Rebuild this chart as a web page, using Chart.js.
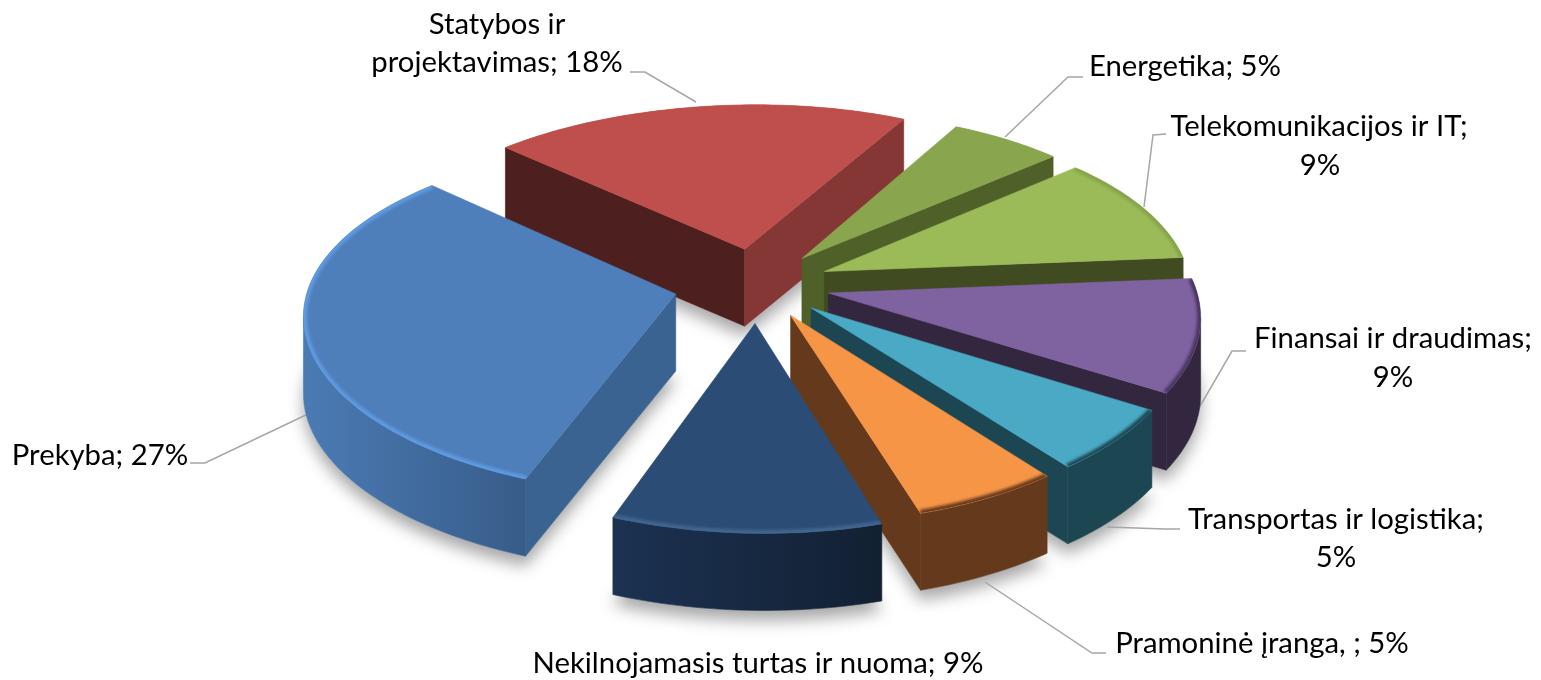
<!DOCTYPE html>
<html>
<head>
<meta charset="utf-8">
<title>Pasiskirstymas pagal sektorius</title>
<script src="https://cdn.jsdelivr.net/npm/chart.js@4/dist/chart.umd.min.js"></script>
<style>
    html, body { margin: 0; padding: 0; background: #fff; overflow: hidden; }
    #wrap { position: relative; width: 1541px; height: 680px; }
</style>
</head>
<body>
<div id="wrap"><canvas id="myChart"></canvas></div>
<script>
const categories = ['Prekyba', 'Statybos ir projektavimas', 'Energetika', 'Telekomunikacijos ir IT',
    'Finansai ir draudimas', 'Transportas ir logistika', 'Pramoninė įranga, ', 'Nekilnojamasis turtas ir nuoma'];
const values = [27, 18, 5, 9, 9, 5, 5, 9];

const topColors = ['#4E7FBB', '#BE4F4C', '#89A54E', '#9BBB59', '#7F62A0', '#4AAAC5', '#F79546', '#2B4C75'];
const startWallColors = ['#3B6391', '#4D1F1E', '#4F6028', '#404B21', '#33273F', '#1D4653', '#653A1C', '#1C3252'];
const endWallColors = ['#3B6391', '#843735', '#4F6028', '#404B21', '#33273F', '#1D4653', '#653A1C', '#1C3252'];
const rimLeftColors = ['#4B7BB4', '#843735', '#4F6028', '#404B21', '#33273F', '#1D4653', '#653A1C', '#1C3252'];
const rimRightColors = ['#375C89', '#843735', '#4F6028', '#404B21', '#33273F', '#1D4653', '#653A1C', '#122032'];
const bevelColors = ['#5F9BE2', '#BE4F4C', '#89A54E', '#86A34C', '#4A3560', '#1D4653', '#653A1C', '#41668F'];
// pull-out of each slice, Chart.js moves an arc by offset / 4
const explode = [336, 320, 292, 292, 288, 284, 284, 320];

// how the label text is broken into lines and where it sits
const labelLines = [
    [['Prekyba; 27%', 100, 456]],
    [['Statybos ir', 497, 25], ['projektavimas; 18%', 497, 63]],
    [['Energetika; 5%', 1185, 67]],
    [['Telekomunikacijos ir IT;', 1319, 127], ['9%', 1320, 166]],
    [['Finansai ir draudimas;', 1393, 339], ['9%', 1393, 378]],
    [['Transportas ir logistika;', 1336, 520], ['5%', 1336, 558]],
    [['Pramoninė įranga, ; 5%', 1262, 644]],
    [['Nekilnojamasis turtas ir nuoma; 9%', 758, 664]]
];
const leaderLines = [
    [[190, 463], [205, 463], [310, 413]],
    [[630, 72], [645, 72], [696, 102]],
    [[1083, 77], [1068, 77], [1005, 137]],
    [[1166, 134], [1153, 135], [1144, 207]],
    [[1246, 351], [1232, 351], [1192, 420]],
    [[1180, 529], [1165, 529], [1107, 527]],
    [[1106, 653], [1092, 653], [985, 582]]
];

// fake 3D view of the pie plane
const squash = 0.468;
const depthY = 0.13;
const depthX = 0.11;
const bend = 7;
const height = 77;

function project(el, X, Y, Z) {
    const r = el.outerRadius;
    const wy = 1 / (1 - depthY * Y / r);
    const wx = 1 / (1 - depthX * Y / r);
    return [el.x + X * wx + bend * (Y / r) * (Y / r), el.y + Y * squash * wy - Z];
}

function sliceOutline(el) {
    const off = (el.options.offset || 0) / 4;
    const mid = (el.startAngle + el.endAngle) / 2;
    const ox = Math.cos(mid) * off;
    const oy = Math.sin(mid) * off;
    const rim = [];
    const steps = Math.max(8, Math.ceil((el.endAngle - el.startAngle) * 40));
    for (let i = 0; i <= steps; i++) {
        const a = el.startAngle + (el.endAngle - el.startAngle) * i / steps;
        rim.push([ox + Math.cos(a) * el.outerRadius, oy + Math.sin(a) * el.outerRadius]);
    }
    return { apex: [ox, oy], rim: rim };
}

function fillPoly(ctx, pts, color) {
    ctx.beginPath();
    pts.forEach((p, i) => i ? ctx.lineTo(p[0], p[1]) : ctx.moveTo(p[0], p[1]));
    ctx.closePath();
    ctx.fillStyle = color;
    ctx.fill();
    ctx.strokeStyle = color;
    ctx.lineWidth = 0.6;
    ctx.stroke();
}

function drawWall(ctx, el, a, b, color) {
    const a0 = project(el, a[0], a[1], 0);
    const b0 = project(el, b[0], b[1], 0);
    if (b0[0] >= a0[0]) return;
    fillPoly(ctx, [a0, b0, project(el, b[0], b[1], -height), project(el, a[0], a[1], -height)], color);
}

function drawSlice(ctx, el, i) {
    const shape = sliceOutline(el);
    const top = [shape.apex].concat(shape.rim).map(p => project(el, p[0], p[1], 0));

    drawWall(ctx, el, shape.apex, shape.rim[0], startWallColors[i]);
    drawWall(ctx, el, shape.rim[shape.rim.length - 1], shape.apex, endWallColors[i]);

    // outer wall, only the part turned towards the viewer
    const visible = [];
    for (let k = 0; k < shape.rim.length; k++) {
        const p = project(el, shape.rim[k][0], shape.rim[k][1], 0);
        const next = shape.rim[k + 1] ? project(el, shape.rim[k + 1][0], shape.rim[k + 1][1], 0) : null;
        const prev = shape.rim[k - 1] ? project(el, shape.rim[k - 1][0], shape.rim[k - 1][1], 0) : null;
        if ((next && next[0] < p[0]) || (prev && p[0] < prev[0])) visible.push(shape.rim[k]);
    }
    if (visible.length > 1) {
        const upper = visible.map(p => project(el, p[0], p[1], 0));
        const lower = visible.map(p => project(el, p[0], p[1], -height)).reverse();
        const xs = upper.map(p => p[0]);
        const grad = ctx.createLinearGradient(Math.min(...xs), 0, Math.max(...xs), 0);
        grad.addColorStop(0, rimLeftColors[i]);
        grad.addColorStop(1, rimRightColors[i]);
        fillPoly(ctx, upper.concat(lower), grad);
    }

    fillPoly(ctx, top, topColors[i]);

    // soft bevel along the rim of the top face
    ctx.save();
    ctx.beginPath();
    top.forEach((p, k) => k ? ctx.lineTo(p[0], p[1]) : ctx.moveTo(p[0], p[1]));
    ctx.closePath();
    ctx.clip();
    ctx.filter = 'blur(1.5px)';
    ctx.beginPath();
    top.slice(1).forEach((p, k) => k ? ctx.lineTo(p[0], p[1]) : ctx.moveTo(p[0], p[1]));
    ctx.strokeStyle = bevelColors[i];
    ctx.lineWidth = 7;
    ctx.stroke();
    ctx.restore();
}

function drawShadow(ctx, el) {
    const shape = sliceOutline(el);
    const base = [shape.apex].concat(shape.rim).map(p => project(el, p[0], p[1], -height));
    ctx.save();
    ctx.shadowColor = 'rgba(0, 0, 0, 0.35)';
    ctx.shadowBlur = 16;
    ctx.shadowOffsetY = 10;
    ctx.beginPath();
    base.forEach((p, k) => k ? ctx.lineTo(p[0], p[1]) : ctx.moveTo(p[0], p[1]));
    ctx.closePath();
    ctx.fillStyle = '#fff';
    ctx.fill();
    ctx.restore();
}

const pie3d = {
    id: 'pie3d',
    beforeDatasetDraw(chart, args) {
        const ctx = chart.ctx;
        const arcs = args.meta.data;
        // back slices first
        const order = arcs.map((el, i) => i).sort((a, b) =>
            Math.sin((arcs[a].startAngle + arcs[a].endAngle) / 2) - Math.sin((arcs[b].startAngle + arcs[b].endAngle) / 2));

        ctx.save();
        order.forEach(i => drawShadow(ctx, arcs[i]));
        ctx.strokeStyle = '#A6A6A6';
        ctx.lineWidth = 1.5;
        leaderLines.forEach(line => {
            ctx.beginPath();
            line.forEach((p, i) => i ? ctx.lineTo(p[0], p[1]) : ctx.moveTo(p[0], p[1]));
            ctx.stroke();
        });
        order.forEach(i => drawSlice(ctx, arcs[i], i));

        ctx.fillStyle = '#000';
        ctx.font = '29.3px Lato';
        ctx.textAlign = 'center';
        ctx.textBaseline = 'middle';
        labelLines.forEach(lines => lines.forEach(l => ctx.fillText(l[0], l[1], l[2])));
        ctx.restore();
        return false;
    }
};

const ctx = document.getElementById('myChart').getContext('2d');
new Chart(ctx, {
    type: 'pie',
    data: {
        labels: categories,
        datasets: [{
            data: values,
            backgroundColor: topColors,
            borderWidth: 0,
            offset: explode,
            radius: 367
        }]
    },
    options: {
        responsive: true,
        maintainAspectRatio: false,
        animation: false,
        rotation: 201,
        events: [],
        layout: { padding: { right: 25, bottom: 110 } },
        plugins: {
            legend: { display: false },
            tooltip: { enabled: false }
        }
    },
    plugins: [pie3d]
});
</script>
</body>
</html>
